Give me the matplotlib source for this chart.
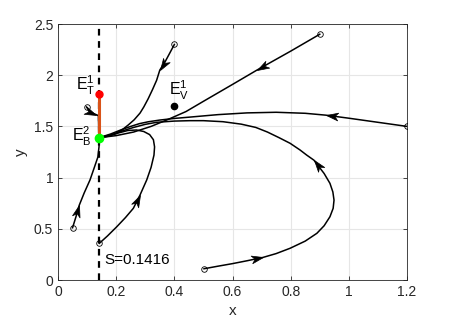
import matplotlib
matplotlib.use("Agg")
import matplotlib.pyplot as plt
from matplotlib.path import Path
from matplotlib.markers import MarkerStyle
from matplotlib.transforms import Affine2D
import numpy as np

plt.rcParams['font.family'] = ['Liberation Sans', 'DejaVu Sans']
plt.rcParams['mathtext.fontset'] = 'custom'
plt.rcParams['mathtext.rm'] = 'Liberation Sans'
plt.rcParams['mathtext.it'] = 'Liberation Sans'

S = 0.1416
EB = (0.1416, 1.39)
ET = (0.1416, 1.82)
EV = (0.40, 1.70)

# trajectories (x lists, y lists)
t1_x = [0.40, 0.385, 0.368, 0.350, 0.339, 0.325, 0.310, 0.295, 0.282, 0.262, 0.242, 0.222, 0.200, 0.175, 0.1416]
t1_y = [2.30, 2.22, 2.13, 2.05, 1.95, 1.86, 1.77, 1.69, 1.63, 1.565, 1.515, 1.47, 1.43, 1.405, 1.39]

t2_x = [0.90, 0.80, 0.684, 0.60, 0.50, 0.44, 0.38, 0.32, 0.26, 0.20, 0.1416]
t2_y = [2.40, 2.235, 2.05, 1.91, 1.745, 1.645, 1.57, 1.50, 1.445, 1.41, 1.39]

t3_x = [1.20, 1.10, 1.00, 0.92, 0.85, 0.75, 0.65, 0.55, 0.45, 0.40, 0.35, 0.31, 0.28, 0.25, 0.22, 0.18, 0.1416]
t3_y = [1.50, 1.54, 1.58, 1.61, 1.628, 1.638, 1.632, 1.615, 1.59, 1.578, 1.562, 1.545, 1.527, 1.50, 1.47, 1.425, 1.39]

t4_x = [0.502, 0.55, 0.60, 0.65, 0.704, 0.75, 0.798, 0.85, 0.89, 0.915, 0.935, 0.946, 0.949, 0.945, 0.935,
        0.915, 0.88, 0.855, 0.832, 0.798, 0.76, 0.72, 0.68, 0.63, 0.567, 0.50, 0.454, 0.40, 0.339, 0.30,
        0.26, 0.22, 0.185, 0.1416]
t4_y = [0.11, 0.135, 0.16, 0.188, 0.22, 0.258, 0.31, 0.38, 0.456, 0.53, 0.618, 0.70, 0.78, 0.86, 0.944,
        1.04, 1.17, 1.22, 1.27, 1.335, 1.39, 1.445, 1.49, 1.522, 1.546, 1.556, 1.556, 1.552, 1.54, 1.52,
        1.49, 1.455, 1.42, 1.39]

t5_x = [0.142, 0.17, 0.202, 0.232, 0.259, 0.282, 0.305, 0.32, 0.33, 0.332, 0.328, 0.315, 0.295, 0.27,
        0.24, 0.20, 0.17, 0.1416]
t5_y = [0.358, 0.43, 0.52, 0.61, 0.70, 0.83, 0.977, 1.10, 1.22, 1.30, 1.37, 1.42, 1.45, 1.465,
        1.46, 1.43, 1.405, 1.39]

t6_x = [0.05, 0.062, 0.073, 0.09, 0.11, 0.125, 0.137, 0.141, 0.1416]
t6_y = [0.51, 0.62, 0.73, 0.85, 0.977, 1.10, 1.20, 1.30, 1.39]

t7_x = [0.098, 0.105, 0.115, 0.131, 0.139, 0.1405]
t7_y = [1.69, 1.66, 1.635, 1.615, 1.605, 1.39]

trajs = [(t1_x, t1_y, [3]), (t2_x, t2_y, [2]), (t3_x, t3_y, [3]),
         (t4_x, t4_y, [4, 16]), (t5_x, t5_y, [5]), (t6_x, t6_y, [2]),
         (t7_x, t7_y, [3])]

xticks = [0, 0.2, 0.4, 0.6, 0.8, 1, 1.2]
xticklabels = ['0', '0.2', '0.4', '0.6', '0.8', '1', '1.2']
yticks = [0, 0.5, 1, 1.5, 2, 2.5]
yticklabels = ['0', '0.5', '1', '1.5', '2', '2.5']

fig = plt.figure(figsize=(4.5, 3.27), dpi=100)
ax = fig.add_axes([0.1289, 0.1437, 0.7756, 0.7829])
ax.set_xlim(0, 1.2)
ax.set_ylim(0, 2.5)

ax.axvline(S, color='k', ls=(0, (3, 2.5)), lw=1.6, zorder=2)

head = Path([(0, 0), (-1, 0.33), (-0.72, 0), (-1, -0.33), (0, 0)],
            [Path.MOVETO, Path.LINETO, Path.LINETO, Path.LINETO, Path.CLOSEPOLY])

def arrowhead(tip, prev):
    p1 = ax.transData.transform(tip)
    p0 = ax.transData.transform(prev)
    ang = np.degrees(np.arctan2(p1[1] - p0[1], p1[0] - p0[0]))
    m = MarkerStyle(head, transform=Affine2D().rotate_deg(ang))
    ax.plot(tip[0], tip[1], marker=m, ms=17, color='k', mew=0.5, zorder=5, ls='none')

for xs, ys, arrows in trajs:
    ax.plot(xs, ys, color='k', lw=1.1, zorder=3, solid_joinstyle='round')
    ax.plot(xs[0], ys[0], 'o', mfc='none', mec='k', ms=4, mew=0.6, zorder=4)
    for i in arrows:
        arrowhead((xs[i], ys[i]), (xs[i - 1], ys[i - 1]))

ax.plot([EB[0], ET[0]], [EB[1], ET[1]], color='#D95319', lw=2.2, zorder=5)
ax.plot(*ET, 'o', color='red', ms=5, zorder=6)
ax.plot(*EB, 'o', color='#00FF00', ms=6, zorder=6)
ax.plot(*EV, 'o', color='k', ms=4.5, zorder=6)

ax.text(0.061, 1.855, r'$\mathregular{E_T^1}$', fontsize=11.5, ha='left', va='baseline')
ax.text(0.383, 1.80, r'$\mathregular{E_V^1}$', fontsize=11.5, ha='left', va='baseline')
ax.text(0.047, 1.35, r'$\mathregular{E_B^2}$', fontsize=11.5, ha='left', va='baseline')
ax.text(0.158, 0.20, 'S=0.1416', fontsize=11, ha='left', va='center')

ax.set_xticks(xticks)
ax.set_xticklabels(xticklabels)
ax.set_yticks(yticks)
ax.set_yticklabels(yticklabels)
ax.grid(True, color='#e6e6e6', lw=0.8)
ax.set_axisbelow(True)
ax.tick_params(direction='in', top=True, right=True, length=3, width=0.6,
               labelsize=10, colors='#262626')
for sp in ax.spines.values():
    sp.set_color('#262626')
    sp.set_linewidth(0.6)
ax.set_xlabel('x', fontsize=11, color='#262626')
ax.set_ylabel('y', fontsize=11, color='#262626')

fig.savefig('out.png', dpi=100)
